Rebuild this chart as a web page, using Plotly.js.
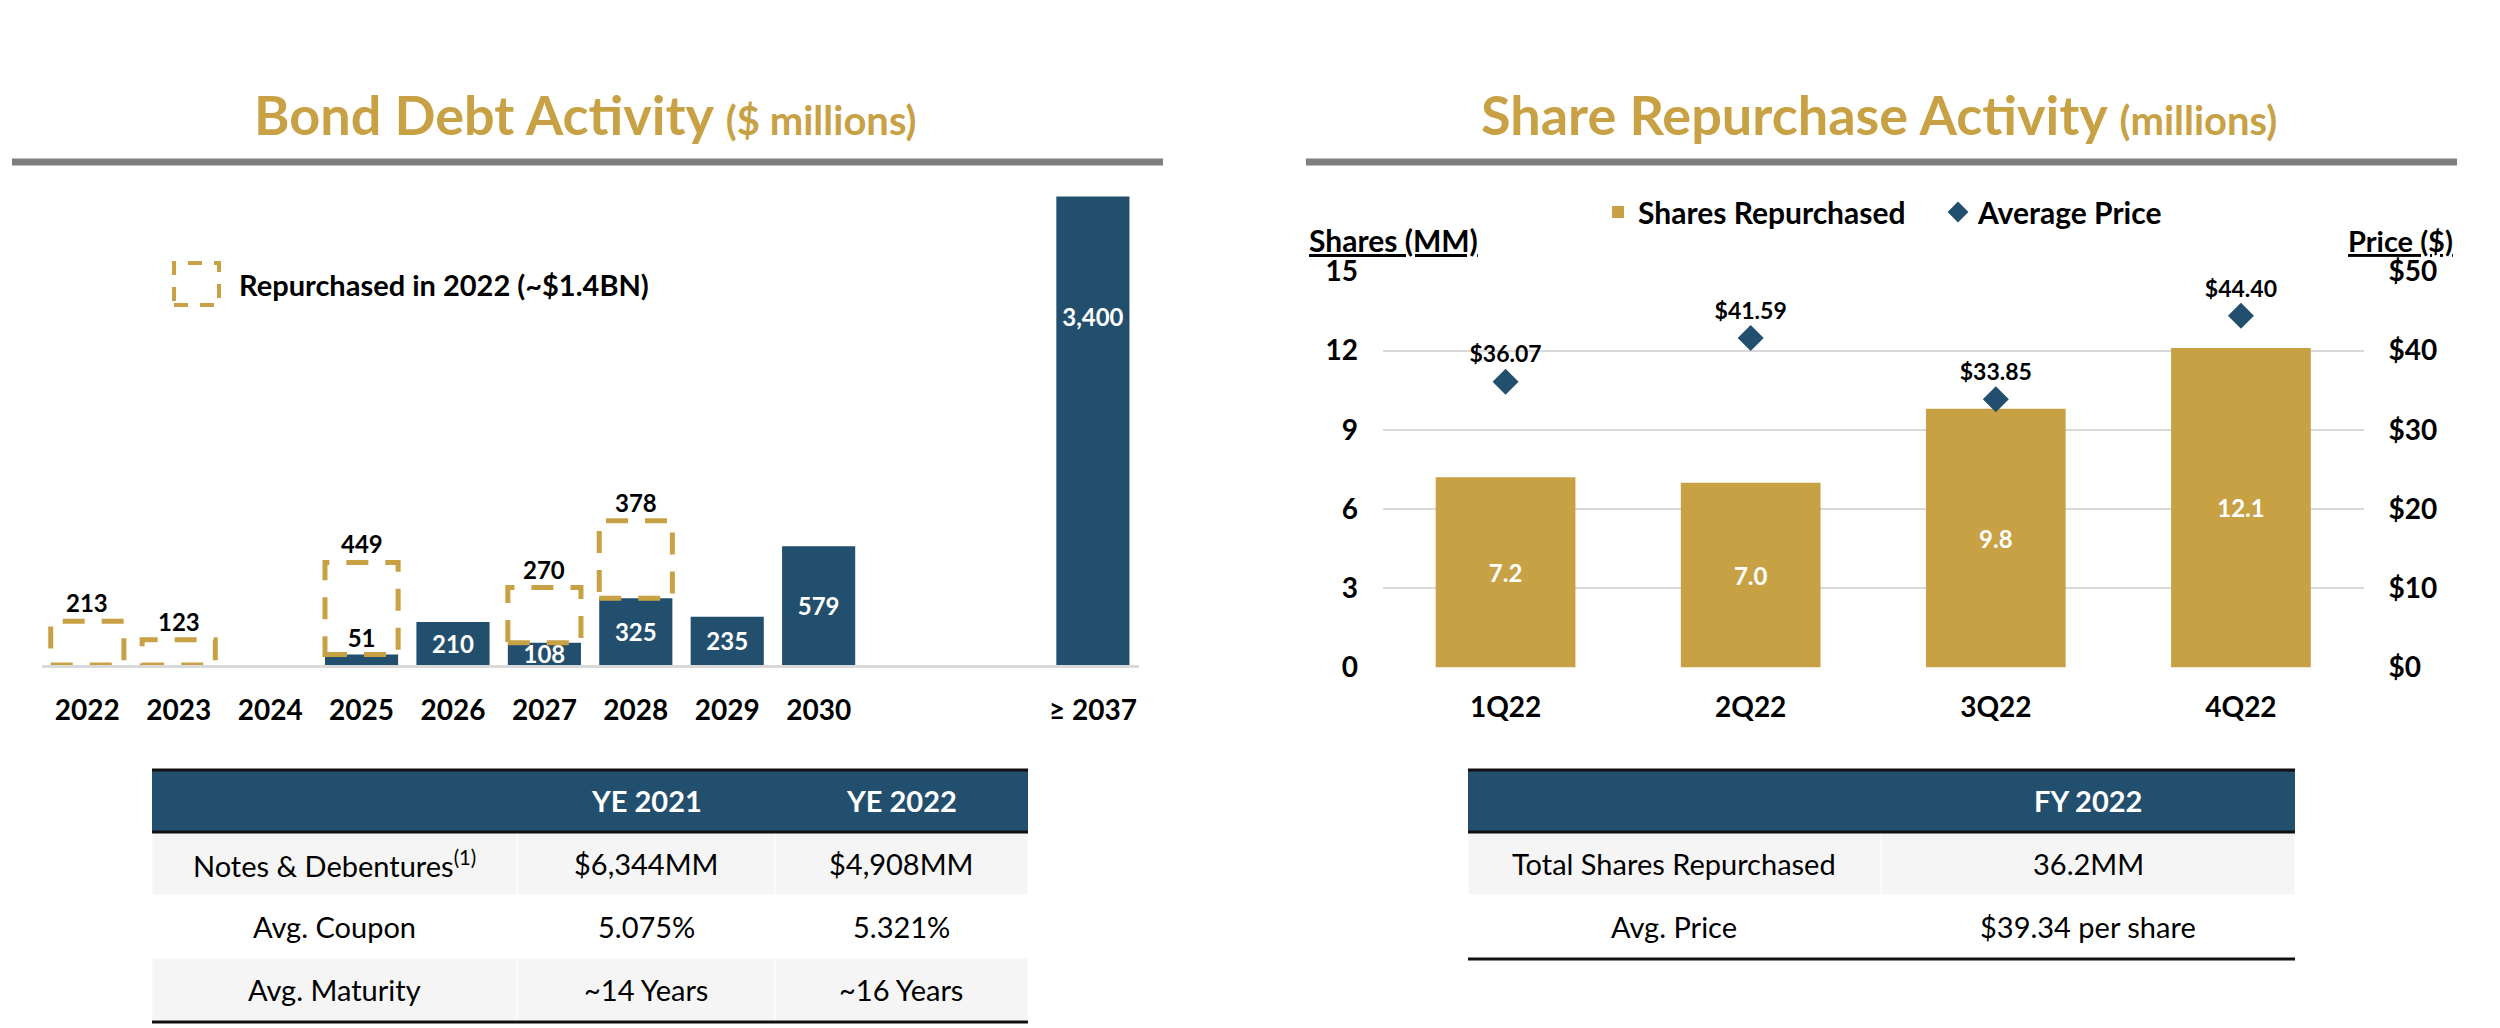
<!DOCTYPE html>
<html><head><meta charset="utf-8">
<script src="https://cdn.plot.ly/plotly-3.0.1.min.js"></script>
<style>html,body{margin:0;padding:0;background:#fff;}#chart{width:2500px;height:1028px;}</style>
</head><body><div id="chart"></div>
<script>
// ---------- data ----------
const bondYears = ['2022','2023','2024','2025','2026','2027','2028','2029','2030','≥ 2037'];
const bondRemaining = [0, 0, 0, 51, 210, 108, 325, 235, 579, 3400];
const bondRepurchased = [213, 123, 0, 449, 0, 270, 378, 0, 0, 0];
const bondAxisOrder = ['2022','2023','2024','2025','2026','2027','2028','2029','2030',' ','  ','≥ 2037'];

const quarters = ['1Q22','2Q22','3Q22','4Q22'];
const sharesRepurchased = [7.2, 7.0, 9.8, 12.1];
const avgPrice = [36.07, 41.59, 33.85, 44.40];

const debtHeader = ['', 'YE 2021', 'YE 2022'];
const debtRowLabels = ['Notes & Debentures<sup>(1)</sup>', 'Avg. Coupon', 'Avg. Maturity'];
const debtYE2021 = ['$6,344MM', '5.075%', '~14 Years'];
const debtYE2022 = ['$4,908MM', '5.321%', '~16 Years'];

const buybackHeader = ['', 'FY 2022'];
const buybackRowLabels = ['Total Shares Repurchased', 'Avg. Price'];
const buybackFY2022 = ['36.2MM', '$39.34 per share'];

// ---------- style ----------
const W = 2500, H = 1028;
const px = x => x / W;
const py = y => 1 - y / H;
const FONT = 'Lato, "Open Sans", sans-serif';
const BLUE = '#234F6E';
const GOLD = '#C9A145';
const GRID = '#D9D9D9';
const ROWGRAY = '#F5F5F5';

const traces = [];

// Bond bars (remaining outstanding)
traces.push({
  type: 'bar', x: bondYears, y: bondRemaining, xaxis: 'x', yaxis: 'y',
  width: 0.8, marker: {color: BLUE}, showlegend: false, hoverinfo: 'skip',
  text: bondRemaining.map(v => v > 0 ? v.toLocaleString('en-US') : ''),
  textposition: bondRemaining.map(v => v > 0 && v < 80 ? 'outside' : 'inside'),
  insidetextanchor: 'middle', constraintext: 'none',
  insidetextfont: {family: FONT, size: 24, color: '#FFFFFF', weight: 'bold'},
  outsidetextfont: {family: FONT, size: 24, color: '#000000', weight: 'bold'},
  cliponaxis: true
});

// Share repurchase bars
traces.push({
  type: 'bar', name: 'Shares Repurchased', x: quarters, y: sharesRepurchased,
  xaxis: 'x2', yaxis: 'y2', width: 0.57, marker: {color: GOLD},
  text: sharesRepurchased.map(v => v.toFixed(1)), textposition: 'inside',
  insidetextanchor: 'middle', constraintext: 'none',
  insidetextfont: {family: FONT, size: 24, color: '#FFFFFF', weight: 'bold'},
  hoverinfo: 'skip'
});

// Average price diamonds
traces.push({
  type: 'scatter', mode: 'markers+text', name: 'Average Price', x: quarters, y: avgPrice,
  xaxis: 'x2', yaxis: 'y3',
  marker: {symbol: 'diamond', size: 20, color: BLUE},
  text: avgPrice.map(v => '$' + v.toFixed(2)), textposition: 'top center',
  textfont: {family: FONT, size: 23, color: '#000000', weight: 'bold'},
  cliponaxis: false, hoverinfo: 'skip'
});

// ---------- shapes ----------
const shapes = [];
const annotations = [];

// dashed repurchased boxes + their labels
bondYears.forEach((yr, i) => {
  if (bondRepurchased[i] > 0) {
    const idx = bondAxisOrder.indexOf(yr);
    shapes.push({
      type: 'rect', xref: 'x', yref: 'y',
      x0: idx - 0.4, x1: idx + 0.4,
      y0: bondRemaining[i], y1: bondRemaining[i] + bondRepurchased[i],
      line: {color: GOLD, width: 5, dash: '22px,17px'}, fillcolor: 'rgba(0,0,0,0)', layer: 'above'
    });
    annotations.push({
      xref: 'x', yref: 'y', x: idx, y: bondRemaining[i] + bondRepurchased[i],
      text: String(bondRepurchased[i]), showarrow: false, yanchor: 'bottom', yshift: 2,
      font: {family: FONT, size: 24, color: '#000000', weight: 'bold'}
    });
  }
});

// legend key for dashed box
shapes.push({type: 'rect', xref: 'paper', yref: 'paper', x0: px(174), x1: px(219), y0: py(305), y1: py(263),
  line: {color: GOLD, width: 4, dash: '14px,12px'}, fillcolor: 'rgba(0,0,0,0)'});
// gray rules under titles
shapes.push({type: 'line', xref: 'paper', yref: 'paper', x0: px(12), x1: px(1163), y0: py(162), y1: py(162), line: {color: '#7F7F7F', width: 7}});
shapes.push({type: 'line', xref: 'paper', yref: 'paper', x0: px(1306), x1: px(2457), y0: py(162), y1: py(162), line: {color: '#7F7F7F', width: 7}});

// ---------- tables (cells built from the arrays) ----------
function drawTable(left, colWidths, top, headerH, rowH, header, columns) {
  const nRows = columns[0].length;
  const edges = [left];
  colWidths.forEach(w => edges.push(edges[edges.length - 1] + w));
  const right = edges[edges.length - 1];
  shapes.push({type: 'rect', xref: 'paper', yref: 'paper', x0: px(left), x1: px(right), y0: py(top + headerH), y1: py(top),
    fillcolor: BLUE, line: {width: 0}, layer: 'below'});
  for (let r = 0; r < nRows; r++) {
    const y0 = top + headerH + r * rowH;
    const fill = r % 2 === 0 ? ROWGRAY : '#FFFFFF';
    for (let c = 0; c < columns.length; c++) {
      shapes.push({type: 'rect', xref: 'paper', yref: 'paper', x0: px(edges[c]), x1: px(edges[c + 1]),
        y0: py(y0 + rowH), y1: py(y0), fillcolor: fill, line: {color: '#FFFFFF', width: 1}, layer: 'below'});
      annotations.push({xref: 'paper', yref: 'paper', x: px((edges[c] + edges[c + 1]) / 2), y: py(y0 + rowH / 2),
        xanchor: 'center', yanchor: 'middle', showarrow: false, text: columns[c][r],
        font: {family: FONT, size: 29, color: '#000000'}});
    }
  }
  header.forEach((h, c) => {
    if (h) annotations.push({xref: 'paper', yref: 'paper', x: px((edges[c] + edges[c + 1]) / 2), y: py(top + headerH / 2),
      xanchor: 'center', yanchor: 'middle', showarrow: false, text: h,
      font: {family: FONT, size: 29, color: '#FFFFFF', weight: 'bold'}});
  });
  const bottom = top + headerH + nRows * rowH;
  [top + 1, top + headerH, bottom + 1].forEach(y => shapes.push({type: 'line', xref: 'paper', yref: 'paper',
    x0: px(left), x1: px(right), y0: py(y), y1: py(y), line: {color: '#111111', width: 3}}));
}
drawTable(152, [365, 258, 253], 769, 63, 63, debtHeader, [debtRowLabels, debtYE2021, debtYE2022]);
drawTable(1468, [413, 414], 769, 63, 63, buybackHeader, [buybackRowLabels, buybackFY2022]);

// ---------- text annotations ----------
annotations.push({xref: 'paper', yref: 'paper', x: px(237), y: py(284), xanchor: 'left', yanchor: 'middle',
  text: 'Repurchased in 2022 (~$1.4BN)', showarrow: false,
  font: {family: FONT, size: 29, color: '#000000', weight: 'bold'}});
annotations.push({xref: 'paper', yref: 'paper', x: px(585), y: py(114), xanchor: 'center', yanchor: 'middle',
  text: 'Bond Debt Activity <span style="font-size:40px">($ millions)</span>', showarrow: false,
  font: {family: FONT, size: 54, color: GOLD, weight: 'bold'}});
annotations.push({xref: 'paper', yref: 'paper', x: px(1879), y: py(114), xanchor: 'center', yanchor: 'middle',
  text: 'Share Repurchase Activity <span style="font-size:40px">(millions)</span>', showarrow: false,
  font: {family: FONT, size: 54, color: GOLD, weight: 'bold'}});
annotations.push({xref: 'paper', yref: 'paper', x: px(1307), y: py(240), xanchor: 'left', yanchor: 'middle',
  text: 'Shares (MM)', showarrow: false,
  font: {family: FONT, size: 30, color: '#000000', weight: 'bold', lineposition: 'under'}});
annotations.push({xref: 'paper', yref: 'paper', x: px(2455), y: py(240), xanchor: 'right', yanchor: 'middle',
  text: 'Price ($)', showarrow: false,
  font: {family: FONT, size: 29, color: '#000000', weight: 'bold', lineposition: 'under'}});

const tickFont = {family: FONT, size: 28, color: '#000000', weight: 'bold'};

const layout = {
  width: W, height: H, margin: {l: 0, r: 0, t: 0, b: 0},
  paper_bgcolor: '#FFFFFF', plot_bgcolor: 'rgba(0,0,0,0)',
  font: {family: FONT},
  showlegend: true,
  legend: {orientation: 'h', x: px(1598), xanchor: 'left', y: py(212), yanchor: 'middle',
    entrywidth: 295, entrywidthmode: 'pixels',
    font: {family: FONT, size: 30, color: '#000000', weight: 'bold'}, bgcolor: 'rgba(0,0,0,0)'},
  xaxis: {domain: [px(41.6), px(1138.6)], anchor: 'y', type: 'category',
    categoryorder: 'array', categoryarray: bondAxisOrder, range: [-0.5, 11.5],
    tickmode: 'array', tickvals: bondYears, ticktext: bondYears,
    showline: true, linecolor: GRID, linewidth: 3, ticks: '', showgrid: false, zeroline: false,
    tickfont: tickFont, ticklabelstandoff: 18, fixedrange: true},
  yaxis: {domain: [py(665), py(196.5)], anchor: 'x', range: [0, 2285],
    showticklabels: false, showgrid: false, zeroline: false, showline: false, ticks: '', fixedrange: true},
  xaxis2: {domain: [px(1383), px(2363.5)], anchor: 'y2', type: 'category',
    showline: false, ticks: '', showgrid: false, zeroline: false,
    tickfont: tickFont, ticklabelstandoff: 20, fixedrange: true},
  yaxis2: {domain: [py(667.5), py(271.4)], anchor: 'x2', range: [0, 15], dtick: 3, tick0: 0,
    showgrid: true, gridcolor: GRID, gridwidth: 2, zeroline: false, showline: false, ticks: '',
    tickfont: tickFont, ticklabelstandoff: 24, fixedrange: true},
  yaxis3: {overlaying: 'y2', anchor: 'x2', side: 'right', range: [0, 50], dtick: 10, tick0: 0,
    tickprefix: '$', showgrid: false, zeroline: false, showline: false, ticks: '',
    tickfont: tickFont, ticklabelstandoff: 24, fixedrange: true},
  shapes: shapes,
  annotations: annotations
};

Plotly.newPlot('chart', traces, layout, {staticPlot: true, displayModeBar: false});
</script>
</body></html>
